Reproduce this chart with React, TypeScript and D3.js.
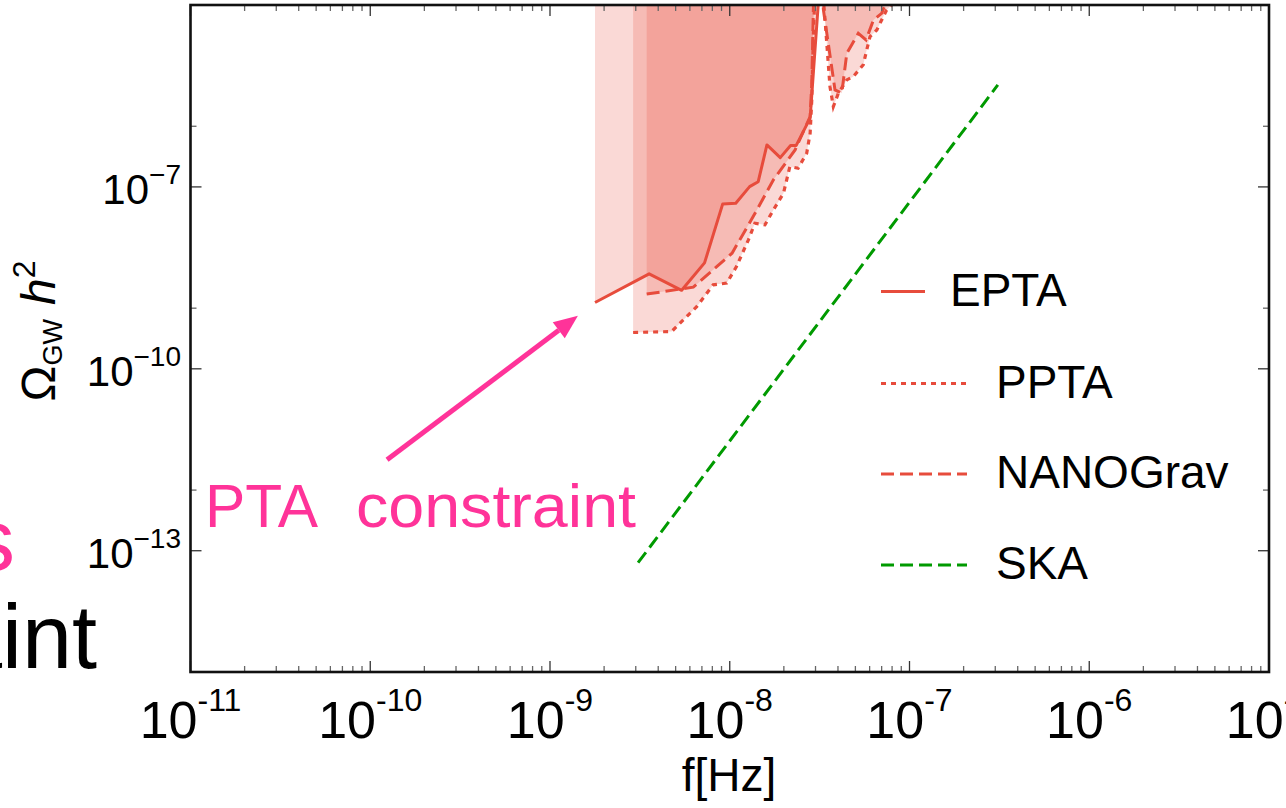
import React from 'react';
import * as d3 from 'd3';

// ---------- data ----------
const eptaFreq = [1.78e-9, 3.56e-9, 5.40e-9, 7.24e-9, 9.14e-9, 1.08e-8, 1.29e-8, 1.44e-8, 1.61e-8, 1.91e-8, 2.18e-8, 2.34e-8, 2.80e-8, 3.14e-8];
const eptaOmega = [1.24e-9, 3.68e-9, 1.97e-9, 5.58e-9, 5.25e-8, 5.38e-8, 1.01e-7, 1.22e-7, 4.92e-7, 3.04e-7, 4.80e-7, 4.80e-7, 1.36e-6, 1.6e-4];

const pptaFreq = [2.90e-9, 4.75e-9, 6.55e-9, 8.09e-9, 9.62e-9, 1.09e-8, 1.27e-8, 1.38e-8, 1.57e-8, 1.75e-8, 1.99e-8, 2.16e-8, 2.40e-8, 2.68e-8, 2.80e-8, 2.86e-8, 2.92e-8, 2.98e-8, 3.30e-8, 3.39e-8, 3.61e-8, 3.77e-8, 4.02e-8, 4.48e-8, 4.86e-8, 5.53e-8, 5.78e-8, 6.03e-8, 6.58e-8, 7.00e-8, 7.46e-8, 7.96e-8, 8.1e-8];
const pptaOmega = [3.97e-10, 4.12e-10, 1.06e-9, 2.43e-9, 2.59e-9, 4.86e-9, 1.34e-8, 2.52e-8, 2.37e-8, 4.18e-8, 7.87e-8, 2.16e-7, 2.03e-7, 3.60e-7, 7.67e-7, 2.72e-6, 3.45e-5, 1.5e-4, 1.5e-4, 5.66e-5, 4.50e-6, 2.11e-6, 3.51e-6, 5.81e-6, 6.58e-6, 1.03e-5, 1.81e-5, 3.01e-5, 3.87e-5, 5.66e-5, 8.28e-5, 1.0e-4, 1.5e-4];

const nanoFreq = [3.45e-9, 6.27e-9, 1.03e-8, 1.35e-8, 1.75e-8, 2.31e-8, 2.80e-8, 2.86e-8, 2.92e-8, 2.98e-8, 3.26e-8, 3.32e-8, 3.85e-8, 4.20e-8, 4.48e-8, 5.19e-8, 5.73e-8, 6.30e-8, 7.00e-8, 7.31e-8, 7.5e-8];
const nanoOmega = [1.71e-9, 2.22e-9, 8.07e-9, 3.24e-8, 1.31e-7, 4.07e-7, 1.44e-6, 5.18e-6, 9.38e-5, 1.5e-4, 1.5e-4, 8.28e-5, 3.97e-6, 3.51e-6, 1.60e-5, 3.42e-5, 2.65e-5, 5.66e-5, 7.29e-5, 1.0e-4, 1.5e-4];

const skaFreq = [3.09e-9, 3.10e-7];
const skaOmega = [6.35e-14, 4.80e-6];

const arrowFreq = [1.24e-10, 1.43e-9];
const arrowOmega = [3.16e-12, 7.48e-10];

const xMajorExps = [-11, -10, -9, -8, -7, -6, -5];
const yMajorExps = [-7, -10, -13];
const yMinorExps = [-6, -9, -12];

const legendLabels = ['EPTA', 'PPTA', 'NANOGrav', 'SKA'];

// ---------- layout ----------
const W = 1286, H = 808;
const L = 190.5, R = 1269, T = 5, B = 672;
const FONT = 'Liberation Sans, Arial, Helvetica, sans-serif';
const RED = '#E74C3C';
const GREEN = '#009A00';
const PINK = '#FF3399';

const x = d3.scaleLog().domain([1e-11, 1e-5]).range([L, R]);
const y = d3.scaleLog().domain([1e-15, 1e-4]).range([B, T]);

type P = [number, number];
const zip = (a: number[], b: number[]): P[] => a.map((v, i) => [v, b[i]]);

const line = d3.line<P>().x(d => x(d[0])).y(d => y(d[1]));
const areaAbove = d3.area<P>().x(d => x(d[0])).y0(() => y(1e-2)).y1(d => y(d[1]));

const epta = zip(eptaFreq, eptaOmega);
const ppta = zip(pptaFreq, pptaOmega);
const nano = zip(nanoFreq, nanoOmega);
const ska = zip(skaFreq, skaOmega);

export default function App() {
  React.useEffect(() => {
    document.body.style.margin = '0';
  }, []);

  const xMinor: number[] = [];
  for (let e = -11; e < -5; e++) for (let m = 2; m <= 9; m++) xMinor.push(m * Math.pow(10, e));

  // arrow geometry
  const ax0 = x(arrowFreq[0]), ay0 = y(arrowOmega[0]);
  const ax1 = x(arrowFreq[1]), ay1 = y(arrowOmega[1]);
  const ang = Math.atan2(ay1 - ay0, ax1 - ax0);
  const headLen = 24, headW = 10;
  const bx = ax1 - headLen * Math.cos(ang), by = ay1 - headLen * Math.sin(ang);
  const head = [
    [ax1, ay1],
    [bx + headW * Math.sin(ang), by - headW * Math.cos(ang)],
    [bx - headW * Math.sin(ang), by + headW * Math.cos(ang)],
  ].map(p => p.join(',')).join(' ');

  const legendY = [291.5, 383.5, 474, 565];
  const legendStyles = [
    { color: RED, dash: undefined as string | undefined, x2: 925, tx: 950 },
    { color: RED, dash: '5,5', x2: 967, tx: 996 },
    { color: RED, dash: '13,6', x2: 967, tx: 996 },
    { color: GREEN, dash: '13,6', x2: 967, tx: 996 },
  ];

  return (
    <svg width={W} height={H} style={{ position: 'absolute', left: 0, top: 0, background: '#fff' }} fontFamily={FONT}>
      <defs>
        <clipPath id="plotclip">
          <rect x={L} y={T} width={R - L} height={B - T} />
        </clipPath>
      </defs>
      <rect x={0} y={0} width={W} height={H} fill="#fff" />

      {/* cut-off texts at the left edge (continuation of a neighbouring panel) */}
      <text x={15} y={570} fontSize={88} fill={PINK} textAnchor="end">PTAs</text>
      <text x={97} y={668} fontSize={90} fill="#000" textAnchor="end">constraint</text>

      {/* data */}
      <g clipPath="url(#plotclip)">
        <path d={areaAbove(epta) || ''} fill={RED} fillOpacity={0.21} />
        <path d={areaAbove(ppta) || ''} fill={RED} fillOpacity={0.21} />
        <path d={areaAbove(nano) || ''} fill={RED} fillOpacity={0.21} />
        <path d={line(epta) || ''} fill="none" stroke={RED} strokeWidth={3} strokeLinejoin="round" />
        <path d={line(ppta) || ''} fill="none" stroke={RED} strokeWidth={3.2} strokeDasharray="5,5" />
        <path d={line(nano) || ''} fill="none" stroke={RED} strokeWidth={3} strokeDasharray="13,6" />
        <path d={line(ska) || ''} fill="none" stroke={GREEN} strokeWidth={3} strokeDasharray="13,6" />
      </g>

      {/* ticks */}
      <g stroke="#333" strokeWidth={1.3}>
        {xMajorExps.map(e => {
          const px = x(Math.pow(10, e));
          return (
            <g key={'xm' + e}>
              <line x1={px} x2={px} y1={B} y2={B - 11} />
              <line x1={px} x2={px} y1={T} y2={T + 11} />
            </g>
          );
        })}
        {xMinor.map((v, i) => {
          const px = x(v);
          return (
            <g key={'xn' + i} stroke="#666">
              <line x1={px} x2={px} y1={B} y2={B - 6} />
              <line x1={px} x2={px} y1={T} y2={T + 6} />
            </g>
          );
        })}
        {yMajorExps.map(e => {
          const py = y(Math.pow(10, e));
          return (
            <g key={'ym' + e}>
              <line x1={L} x2={L + 11} y1={py} y2={py} />
              <line x1={R} x2={R - 11} y1={py} y2={py} />
            </g>
          );
        })}
        {yMinorExps.map(e => {
          const py = y(Math.pow(10, e));
          return (
            <g key={'yn' + e} stroke="#666">
              <line x1={L} x2={L + 6} y1={py} y2={py} />
              <line x1={R} x2={R - 6} y1={py} y2={py} />
            </g>
          );
        })}
      </g>

      {/* frame */}
      <rect x={L} y={T} width={R - L} height={B - T} fill="none" stroke="#111" strokeWidth={2.6} />

      {/* x tick labels */}
      {xMajorExps.map(e => (
        <text key={'xl' + e} x={x(Math.pow(10, e))} y={738} fontSize={52} textAnchor="middle" fill="#000">
          10<tspan fontSize={32} dy={-27}>{'-' + String(-e)}</tspan>
        </text>
      ))}

      {/* y tick labels */}
      {yMajorExps.map(e => (
        <text key={'yl' + e} x={181} y={y(Math.pow(10, e)) + 17} fontSize={42} textAnchor="end" fill="#000">
          10<tspan fontSize={28} dy={-20}>{'\u2212' + String(-e)}</tspan>
        </text>
      ))}

      {/* axis titles */}
      <text x={729} y={791} fontSize={46} textAnchor="middle" fill="#000">f[Hz]</text>
      <text transform="translate(55,331) rotate(-90)" textAnchor="middle" fontSize={48} fill="#000">
        Ω<tspan fontSize={27} dy={7}>GW</tspan>
        <tspan fontStyle="italic" dy={-7} dx={14}>h</tspan>
        <tspan fontSize={32} dy={-20}>2</tspan>
      </text>

      {/* annotation */}
      <line x1={ax0} y1={ay0} x2={bx} y2={by} stroke={PINK} strokeWidth={5} />
      <polygon points={head} fill={PINK} />
      <text x={205} y={527} fontSize={62} fill={PINK} textLength={113} lengthAdjust="spacingAndGlyphs">PTA</text>
      <text x={356} y={527} fontSize={62} fill={PINK} textLength={280} lengthAdjust="spacingAndGlyphs">constraint</text>

      {/* legend */}
      {legendLabels.map((lab, i) => {
        const s = legendStyles[i];
        return (
          <g key={lab}>
            <line x1={881} x2={s.x2} y1={legendY[i]} y2={legendY[i]} stroke={s.color} strokeWidth={3.2} strokeDasharray={s.dash} />
            <text x={s.tx} y={legendY[i] + 14} fontSize={46} fill="#000">{lab}</text>
          </g>
        );
      })}
    </svg>
  );
}
